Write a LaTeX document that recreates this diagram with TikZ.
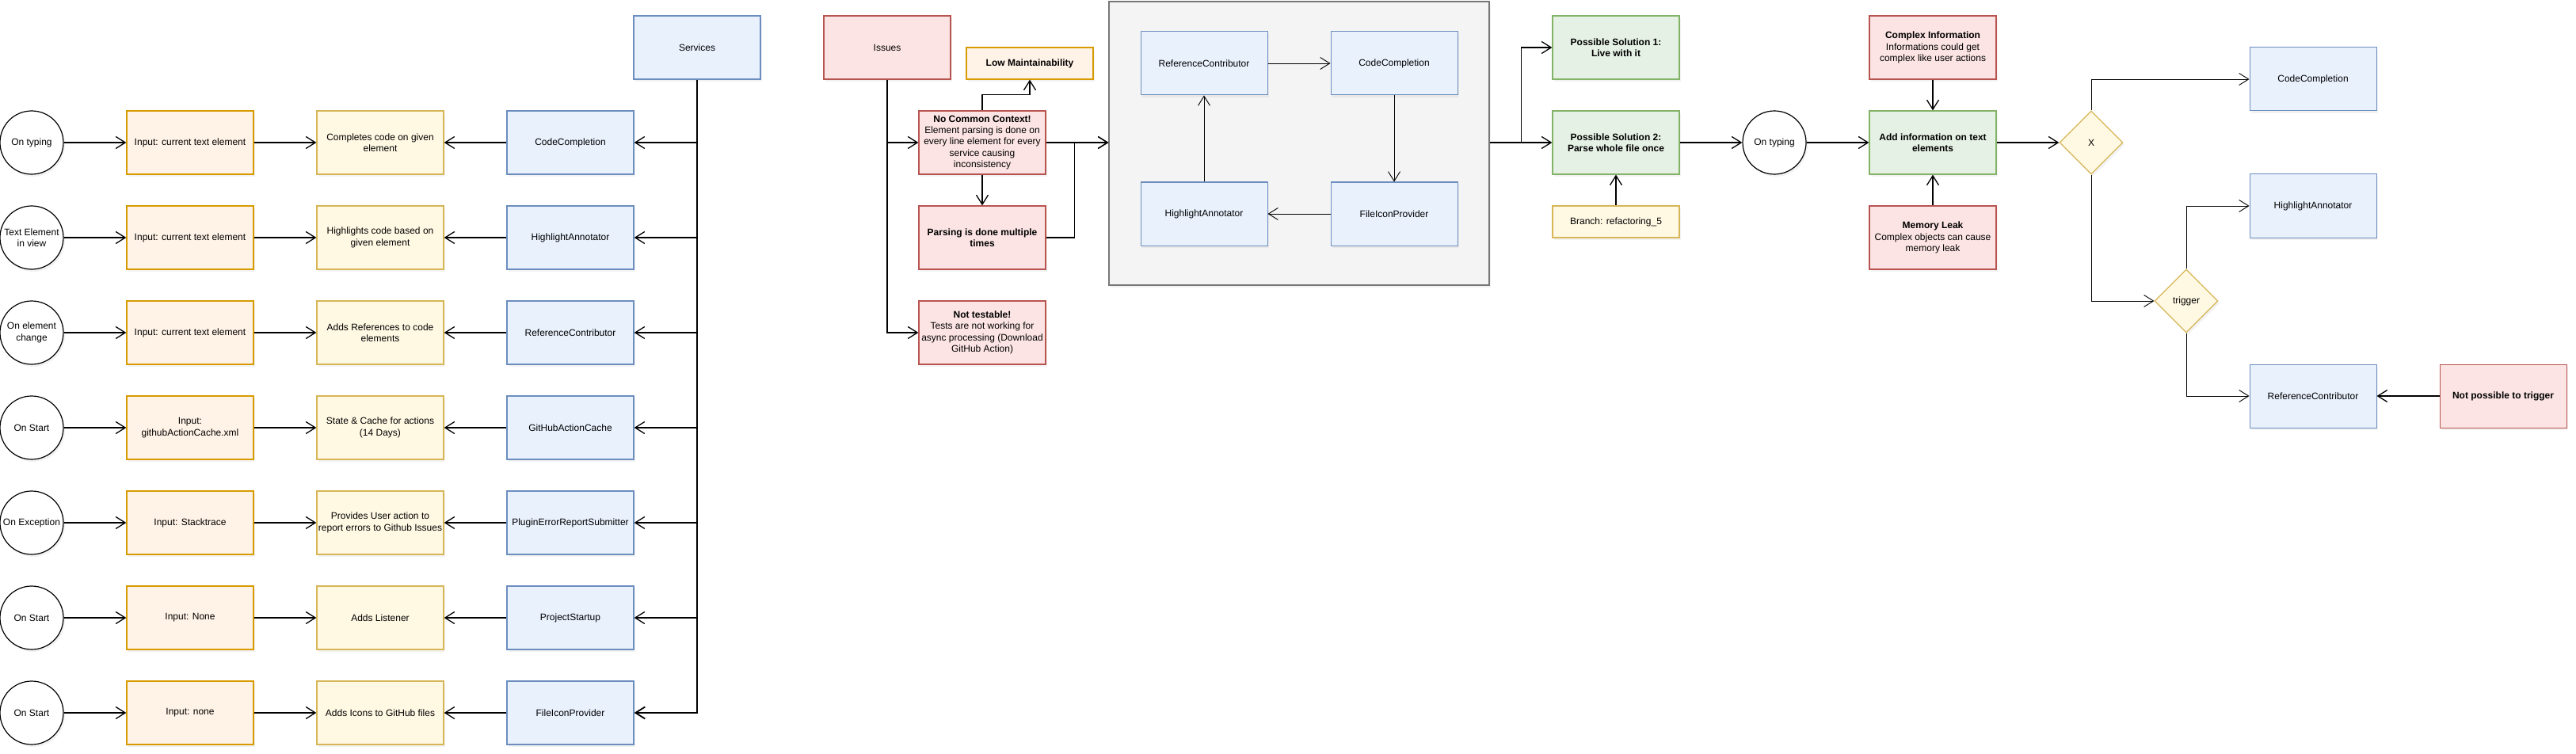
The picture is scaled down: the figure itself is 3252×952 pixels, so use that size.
\documentclass[tikz,border=0pt]{standalone}
\usepackage{fontspec}
\setmainfont{Liberation Sans}
\usetikzlibrary{arrows.meta,shapes.geometric,shadows}
\definecolor{oS}{HTML}{D79B00}
\definecolor{oF}{HTML}{FFE6CC}
\definecolor{yS}{HTML}{D6B656}
\definecolor{yF}{HTML}{FFF2CC}
\definecolor{bS}{HTML}{6C8EBF}
\definecolor{bF}{HTML}{DAE8FC}
\definecolor{rS}{HTML}{B85450}
\definecolor{rF}{HTML}{F8CECC}
\definecolor{gS}{HTML}{82B366}
\definecolor{gF}{HTML}{D5E8D4}
\definecolor{cS}{HTML}{777777}
\definecolor{cF}{HTML}{F4F4F4}
\newcommand\dfont{\fontsize{12}{14.4}\selectfont}
\begin{document}
\begin{tikzpicture}[x=1pt,y=-1pt,
  base/.style={draw, line width=1.2pt, align=center, font=\dfont, inner sep=2pt,
    drop shadow={shadow xshift=2pt, shadow yshift=-3pt, opacity=0.10}},
  box/.style={base, rectangle, minimum width=160pt, minimum height=80pt},
  orangebox/.style={box, draw=oS, fill=oF!50!white},
  yellowbox/.style={box, draw=yS, fill=yF!55!white},
  bluebox/.style={box, draw=bS, fill=bF!60!white},
  redbox/.style={box, draw=rS, fill=rF!55!white},
  greenbox/.style={box, draw=gS, fill=gF!60!white},
  boldtxt/.style={font=\dfont\bfseries},
  evt/.style={base, circle, minimum size=80pt, inner sep=0pt, draw=black, fill=white},
  dec/.style={base, diamond, aspect=1, minimum size=80pt, inner sep=0pt, draw=yS, fill=yF!55!white},
  conn/.style={line width=1.3pt, -{Straight Barb[length=12pt,width=15pt]}},
  fineconn/.style={line width=0.9pt, -{Straight Barb[length=12pt,width=15pt]}}
]
\useasboundingbox (0,0) rectangle (3252,952);

% ---------------- left part ----------------
\node[bluebox] (serv) at (880,60) {Services};

\node[evt] (c1) at (40,180) {On typing};
\node[orangebox] (in1) at (240,180) {Input: current text element};
\node[yellowbox] (d1) at (480,180) {Completes code on given\\element};
\node[bluebox] (s1) at (720,180) {CodeCompletion};

\node[evt] (c2) at (40,300) {Text Element\\in view};
\node[orangebox] (in2) at (240,300) {Input: current text element};
\node[yellowbox] (d2) at (480,300) {Highlights code based on\\given element};
\node[bluebox] (s2) at (720,300) {HighlightAnnotator};

\node[evt] (c3) at (40,420) {On element\\change};
\node[orangebox] (in3) at (240,420) {Input: current text element};
\node[yellowbox] (d3) at (480,420) {Adds References to code\\elements};
\node[bluebox] (s3) at (720,420) {ReferenceContributor};

\node[evt] (c4) at (40,540) {On Start};
\node[orangebox] (in4) at (240,540) {Input:\\githubActionCache.xml};
\node[yellowbox] (d4) at (480,540) {State \& Cache for actions\\(14 Days)};
\node[bluebox] (s4) at (720,540) {GitHubActionCache};

\node[evt] (c5) at (40,660) {On Exception};
\node[orangebox] (in5) at (240,660) {Input: Stacktrace};
\node[yellowbox] (d5) at (480,660) {Provides User action to\\report errors to Github Issues};
\node[bluebox] (s5) at (720,660) {PluginErrorReportSubmitter};

\node[evt] (c6) at (40,780) {On Start};
\node[orangebox] (in6) at (240,780) {Input: None};
\node[yellowbox] (d6) at (480,780) {Adds Listener};
\node[bluebox] (s6) at (720,780) {ProjectStartup};

\node[evt] (c7) at (40,900) {On Start};
\node[orangebox] (in7) at (240,900) {Input: none};
\node[yellowbox] (d7) at (480,900) {Adds Icons to GitHub files};
\node[bluebox] (s7) at (720,900) {FileIconProvider};

\foreach \i in {1,...,7}{
  \draw[conn] (c\i) -- (in\i);
  \draw[conn] (in\i) -- (d\i);
  \draw[conn] (s\i) -- (d\i);
}
\foreach \i in {1,...,6}{
  \draw[conn] (serv.south |- s\i.east) -- (s\i.east);
}
\draw[conn, line width=1.8pt] (serv.south) |- (s7.east);

% ---------------- issues part ----------------
\node[redbox] (issues) at (1120,60) {Issues};
\node[orangebox, minimum height=40pt, boldtxt] (lowm) at (1300,80) {Low Maintainability};
\node[redbox] (ncc) at (1240,180) {\textbf{No Common Context!}\\Element parsing is done on\\every line element for every\\service causing\\inconsistency};
\node[redbox, boldtxt] (pars) at (1240,300) {Parsing is done multiple\\times};
\node[redbox] (nt) at (1240,420) {\textbf{Not testable!}\\Tests are not working for\\async processing (Download\\GitHub Action)};

\node[draw=cS, fill=cF, line width=1.2pt, minimum width=480pt, minimum height=358pt, inner sep=0pt,
  drop shadow={shadow xshift=2pt, shadow yshift=-3pt, opacity=0.10}] (cont) at (1640,181) {};
\node[bluebox, line width=1pt] (rc1) at (1520,80) {ReferenceContributor};
\node[bluebox, line width=1pt] (cc1) at (1760,80) {CodeCompletion};
\node[bluebox, line width=1pt] (ha1) at (1520,270) {HighlightAnnotator};
\node[bluebox, line width=1pt] (fip1) at (1760,270) {FileIconProvider};

\draw[conn] (issues.south) |- (ncc.west);
\draw[conn] (issues.south) |- (nt.west);
\draw[conn] (ncc.north) -- ++(0,-20) -| (lowm.south);
\draw[conn] (ncc) -- (pars);
\draw[conn] (ncc.east) -- (cont.west |- ncc.east);
\draw[conn] (pars.east) -- ++(36,0) |- (cont.west |- ncc.east);

\draw[fineconn] (rc1) -- (cc1);
\draw[fineconn] (cc1) -- (fip1);
\draw[fineconn] (fip1) -- (ha1);
\draw[fineconn] (ha1) -- (rc1);

% ---------------- solutions part ----------------
\node[greenbox, boldtxt] (ps1) at (2040,60) {Possible Solution 1:\\Live with it};
\node[greenbox, boldtxt] (ps2) at (2040,180) {Possible Solution 2:\\Parse whole file once};
\node[yellowbox, minimum height=40pt] (br) at (2040,280) {Branch: refactoring\_5};
\node[evt] (ot) at (2240,180) {On typing};
\node[greenbox, boldtxt] (add) at (2440,180) {Add information on text\\elements};
\node[redbox] (ci) at (2440,60) {\textbf{Complex Information}\\Informations could get\\complex like user actions};
\node[redbox] (ml) at (2440,300) {\textbf{Memory Leak}\\Complex objects can cause\\memory leak};
\node[dec] (dx) at (2640,180) {X};
\node[dec] (trg) at (2760,380) {trigger};
\node[bluebox, line width=1pt] (cc2) at (2920,100) {CodeCompletion};
\node[bluebox, line width=1pt] (ha2) at (2920,260) {HighlightAnnotator};
\node[bluebox, line width=1pt] (rc2) at (2920,500) {ReferenceContributor};
\node[redbox, line width=1pt, boldtxt] (np) at (3160,500) {Not possible to trigger};

\draw[conn] (cont.east |- ps2.west) -- (ps2.west);
\draw[conn] (cont.east |- ps2.west) -- ++(40,0) |- (ps1.west);
\draw[conn] (br) -- (ps2);
\draw[conn] (ps2) -- (ot);
\draw[conn] (ot) -- (add);
\draw[conn] (ci) -- (add);
\draw[conn] (ml) -- (add);
\draw[conn] (add) -- (dx);
\draw[fineconn] (dx.north) |- (cc2.west);
\draw[fineconn] (dx.south) |- (trg.west);
\draw[fineconn] (trg.north) |- (ha2.west);
\draw[fineconn] (trg.south) |- (rc2.west);
\draw[conn] (np) -- (rc2);
\end{tikzpicture}
\end{document}
